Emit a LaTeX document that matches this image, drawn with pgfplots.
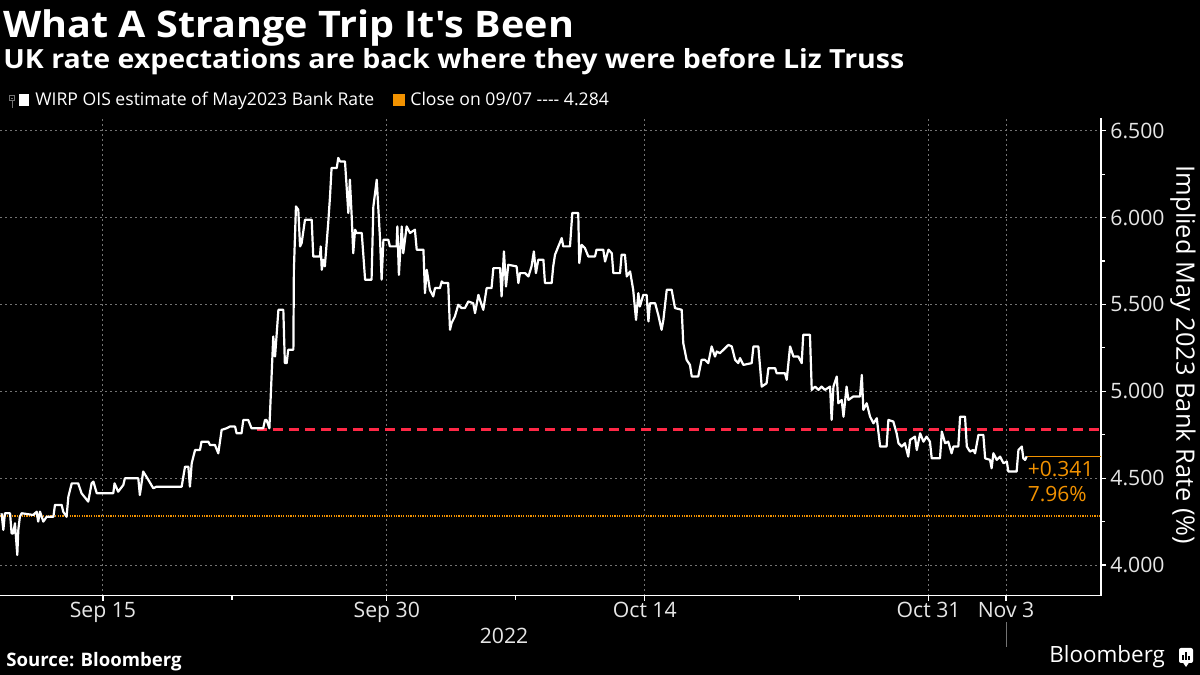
\documentclass[border=0pt]{standalone}
\usepackage{pgfplots}
\pgfplotsset{compat=1.18}
\usepackage{pgfplotstable}
\usepackage{fontspec}
\setmainfont{Open Sans}[Ligatures=TeXOff]
\newfontfamily\widefont{Open Sans}[Ligatures=TeXOff, FakeStretch=1.08]
\definecolor{bbo}{RGB}{242,146,0}
\definecolor{bbred}{RGB}{255,40,70}
\definecolor{gridc}{RGB}{115,115,115}
\definecolor{tickc}{RGB}{230,230,230}

% x = trading days after Sep 15 2022 (Sep 15 = 0, Sep 30 = 11, Oct 14 = 21, Oct 31 = 32, Nov 3 = 35)
\pgfplotstableread{
x y
-3.93 4.298
-3.86 4.202
-3.80 4.298
-3.60 4.298
-3.54 4.182
-3.48 4.182
-3.41 4.240
-3.32 4.058
-3.28 4.202
-3.22 4.278
-3.15 4.298
-2.70 4.288
-2.57 4.307
-2.51 4.250
-2.44 4.307
-2.31 4.250
-2.18 4.278
-1.92 4.278
-1.86 4.346
-1.60 4.346
-1.54 4.307
-1.41 4.278
-1.34 4.394
-1.21 4.470
-0.96 4.470
-0.83 4.413
-0.57 4.365
-0.44 4.470
-0.37 4.480
-0.24 4.413
0.40 4.413
0.45 4.470
0.59 4.422
0.79 4.461
0.85 4.499
1.37 4.499
1.43 4.403
1.56 4.538
1.76 4.490
1.95 4.442
2.08 4.451
3.05 4.451
3.18 4.566
3.31 4.566
3.37 4.451
3.44 4.586
3.57 4.662
3.76 4.662
3.82 4.710
4.08 4.710
4.15 4.691
4.34 4.691
4.47 4.643
4.60 4.778
4.79 4.787
4.92 4.797
5.12 4.797
5.18 4.758
5.37 4.758
5.44 4.835
5.63 4.835
5.76 4.787
6.21 4.787
6.28 4.835
6.34 4.835
6.45 4.787
6.60 5.315
6.67 5.200
6.80 5.469
6.99 5.469
7.05 5.162
7.12 5.162
7.18 5.239
7.38 5.239
7.40 5.699
7.48 6.064
7.57 6.045
7.64 5.834
7.70 5.853
7.83 5.987
8.09 5.987
8.15 5.776
8.41 5.776
8.44 5.834
8.48 5.699
8.54 5.757
8.60 5.719
8.73 5.968
8.80 6.122
8.86 6.285
9.06 6.285
9.12 6.343
9.19 6.323
9.38 6.323
9.51 6.026
9.57 6.218
9.64 6.007
9.70 5.795
9.77 5.930
9.83 5.911
10.03 5.911
10.16 5.642
10.41 5.642
10.48 6.064
10.61 6.218
10.74 5.872
10.80 5.642
10.87 5.872
11.06 5.872
11.12 5.834
11.38 5.834
11.41 5.949
11.47 5.670
11.51 5.776
11.58 5.949
11.64 5.795
11.77 5.949
11.90 5.911
12.09 5.930
12.16 5.815
12.42 5.815
12.48 5.565
12.55 5.699
12.67 5.584
12.80 5.546
12.87 5.594
13.06 5.594
13.13 5.632
13.19 5.623
13.38 5.623
13.45 5.354
13.51 5.392
13.64 5.431
13.77 5.498
13.90 5.479
14.03 5.479
14.16 5.517
14.35 5.507
14.42 5.450
14.55 5.555
14.74 5.469
14.87 5.594
15.06 5.594
15.13 5.709
15.39 5.709
15.45 5.546
15.54 5.805
15.62 5.603
15.71 5.728
16.03 5.719
16.10 5.623
16.16 5.680
16.36 5.680
16.49 5.661
16.61 5.719
16.70 5.805
16.78 5.680
16.87 5.757
17.07 5.757
17.13 5.623
17.39 5.623
17.45 5.719
17.52 5.786
17.65 5.834
17.78 5.882
17.84 5.834
18.10 5.834
18.19 6.026
18.42 6.026
18.46 5.738
18.55 5.843
18.68 5.824
18.81 5.776
19.07 5.776
19.13 5.815
19.39 5.815
19.46 5.747
19.59 5.815
19.72 5.795
19.78 5.680
20.04 5.680
20.10 5.786
20.23 5.786
20.30 5.661
20.43 5.690
20.55 5.584
20.66 5.411
20.75 5.565
20.81 5.488
20.94 5.555
21.07 5.555
21.14 5.402
21.20 5.507
21.40 5.507
21.52 5.440
21.65 5.354
21.72 5.411
21.85 5.584
22.04 5.584
22.17 5.479
22.43 5.469
22.49 5.277
22.62 5.181
22.75 5.152
22.82 5.085
23.07 5.085
23.20 5.181
23.33 5.181
23.46 5.162
23.59 5.258
23.72 5.200
23.79 5.229
23.91 5.219
24.11 5.248
24.24 5.267
24.37 5.258
24.50 5.181
24.62 5.162
24.69 5.191
24.82 5.152
25.14 5.162
25.21 5.258
25.40 5.258
25.53 5.027
25.72 5.046
25.79 5.133
26.05 5.133
26.11 5.104
26.43 5.104
26.50 5.066
26.63 5.258
26.76 5.200
26.95 5.200
27.08 5.162
27.14 5.325
27.40 5.325
27.47 5.008
27.60 5.027
27.73 5.008
27.85 5.027
27.98 5.008
28.18 5.027
28.24 4.835
28.31 5.027
28.44 5.085
28.50 4.931
28.63 4.950
28.70 4.854
28.82 5.027
28.89 4.950
29.08 4.970
29.34 4.970
29.41 5.094
29.47 4.893
29.60 4.931
29.73 4.854
29.86 4.816
29.99 4.845
30.12 4.682
30.37 4.682
30.44 4.835
30.63 4.826
30.76 4.758
30.83 4.701
30.96 4.682
31.08 4.701
31.21 4.624
31.28 4.720
31.47 4.739
31.54 4.662
31.67 4.758
31.80 4.710
31.92 4.739
32.05 4.710
32.12 4.614
32.44 4.614
32.51 4.768
32.64 4.701
32.76 4.710
32.89 4.643
32.96 4.682
33.15 4.682
33.22 4.854
33.41 4.854
33.48 4.682
33.60 4.653
33.73 4.662
33.80 4.643
33.93 4.749
34.12 4.749
34.19 4.614
34.38 4.605
34.44 4.557
34.51 4.643
34.64 4.605
34.77 4.624
34.90 4.586
35.03 4.595
35.09 4.538
35.41 4.538
35.48 4.662
35.61 4.682
35.67 4.614
35.74 4.605
35.80 4.625
}\wirp

\begin{document}
\begin{tikzpicture}
\fill[black] (0,0) rectangle (600bp,337.5bp);

\begin{axis}[
  at={(0bp,39.7bp)}, anchor=south west,
  scale only axis, width=550.5bp, height=238.8bp,
  xmin=-3.99, xmax=38.68, ymin=3.824, ymax=6.573,
  axis x line*=bottom, axis y line*=right,
  axis line style={white, line width=0.6bp},
  xtick={0,11,21,32,35},
  xticklabels={Sep 15, Sep 30, Oct 14, Oct 31, Nov 3},
  minor xtick={5,16,27},
  ytick={4,4.5,5,5.5,6,6.5},
  yticklabels={4.000,4.500,5.000,5.500,6.000,6.500},
  minor ytick={4.25,4.75,5.25,5.75,6.25},
  tick align=outside,
  major tick length=2.5bp, minor tick length=2bp,
  every tick/.style={white, line width=0.6bp},
  xmajorgrids, ymajorgrids,
  grid style={gridc, line width=0.5bp, dash pattern=on 1bp off 1.5bp},
  xticklabel style={font=\fontsize{10.6bp}{12bp}\selectfont, text=tickc, anchor=base, inner sep=0pt, yshift=-8.2bp},
  yticklabel style={font=\fontsize{10.6bp}{12bp}\selectfont, text=tickc, anchor=west, inner sep=0pt, xshift=2bp},
  clip mode=individual,
]
\addplot[bbo, line width=0.9bp, dash pattern=on 0.6bp off 0.6bp] coordinates {(-3.99,4.284) (38.68,4.284)};
\addplot[bbred, line width=1.5bp, dash pattern=on 5bp off 3bp] coordinates {(5.97,4.782) (38.68,4.782)};
\addplot[bbo, line width=0.6bp] coordinates {(35.80,4.625) (38.68,4.625)};
\addplot[white, line width=1.1bp, line join=round] table[x=x, y=y] {\wirp};
\node[anchor=base west, inner sep=0pt, text=bbo, font=\fontsize{10.5bp}{12bp}\selectfont] at (axis cs:35.83,4.507) {+0.341};
\node[anchor=base west, inner sep=0pt, text=bbo, font=\fontsize{10.5bp}{12bp}\selectfont] at (axis cs:35.83,4.365) {7.96\%};
\coordinate (nov3) at (axis cs:35,3.824);
\end{axis}

\draw[gridc, line width=0.5bp] ([yshift=-13.2bp]nov3) -- ([yshift=-25.7bp]nov3);

% titles
\node[anchor=base west, inner sep=0pt, text=white, font=\widefont\fontsize{18.3bp}{20bp}\selectfont\bfseries] at (1.5bp,318.85bp) {What A Strange Trip It's Been};
\node[anchor=base west, inner sep=0pt, text=white, font=\widefont\fontsize{13.2bp}{15bp}\selectfont\bfseries] at (1.5bp,303.35bp) {UK rate expectations are back where they were before Liz Truss};

% legend
\draw[gridc, line width=0.4bp] (4.7bp,287.2bp) rectangle (7.3bp,289.8bp);
\draw[gridc, line width=0.4bp] (5.4bp,288.5bp) -- (6.6bp,288.5bp);
\draw[gridc, line width=0.4bp] (6bp,287.2bp) -- (6bp,283.5bp);
\fill[white] (9.35bp,284.65bp) rectangle (14.5bp,290.35bp);
\node[anchor=base west, inner sep=0pt, text=white, font=\fontsize{8.8bp}{10bp}\selectfont] at (17.5bp,284.5bp) {WIRP OIS estimate of May2023 Bank Rate};
\fill[bbo] (196.5bp,284.65bp) rectangle (202.5bp,290.35bp);
\node[anchor=base west, inner sep=0pt, text=white, font=\fontsize{8.8bp}{10bp}\selectfont] at (205bp,284.5bp) {Close on 09/07 ---- 4.284};

% axis labels
\node[rotate=-90, inner sep=0pt, text=white, font=\fontsize{12.7bp}{14bp}\selectfont] at (591.5bp,160bp) {Implied May 2023 Bank Rate (\%)};
\node[anchor=base, inner sep=0pt, text=tickc, font=\fontsize{10.6bp}{12bp}\selectfont] at (252bp,16bp) {2022};

% footer
\node[anchor=base west, inner sep=0pt, text=white, font=\fontsize{9.3bp}{11bp}\selectfont\bfseries] at (3bp,4.5bp) {Source: Bloomberg};
\node[anchor=base west, inner sep=0pt, text=white, font=\fontsize{11.2bp}{13bp}\selectfont] at (524.5bp,6.35bp) {Bloomberg};
\fill[white, rounded corners=1bp] (589.5bp,6bp) rectangle (596.5bp,13.5bp);
\fill[white] (591.5bp,6.2bp) -- (593bp,4bp) -- (594.5bp,6.2bp) -- cycle;
\fill[black] (591bp,7.5bp) rectangle (591.8bp,10bp);
\fill[black] (592.6bp,7.5bp) rectangle (593.4bp,11.5bp);
\fill[black] (594.2bp,7.5bp) rectangle (595bp,9.5bp);

\pgfresetboundingbox
\useasboundingbox (0,0) rectangle (600bp,337.5bp);
\end{tikzpicture}
\end{document}
